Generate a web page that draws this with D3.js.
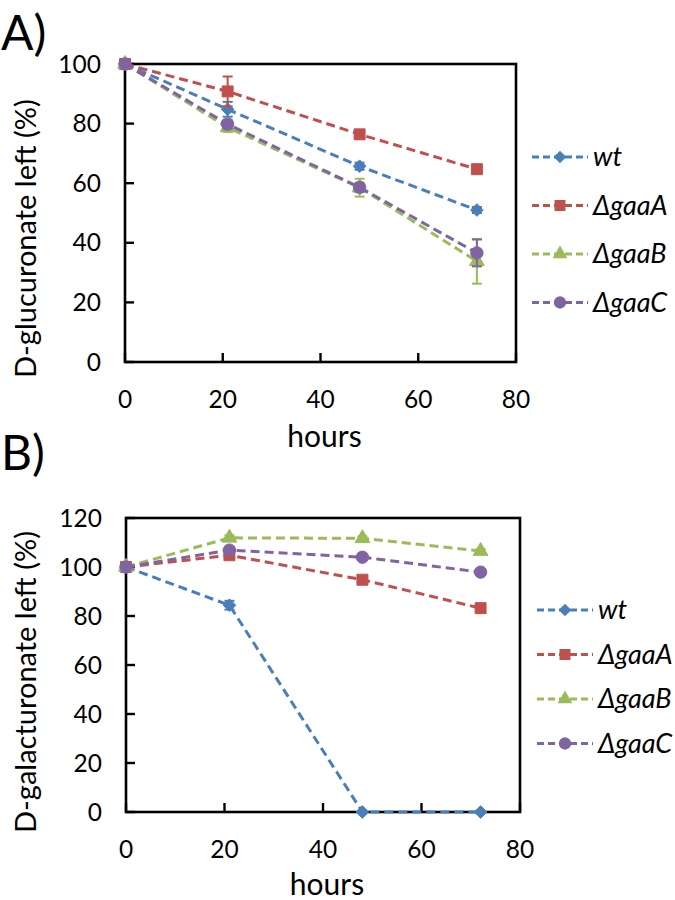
<!DOCTYPE html>
<html><head><meta charset="utf-8">
<script src="https://cdn.jsdelivr.net/npm/d3@7"></script>
<style>body{margin:0;background:#fff}svg{display:block}</style>
</head><body>
<svg id="c" width="675" height="900"></svg>
<script>
const hours = [0, 21, 48, 72];
const seriesNames = ["wt", "ΔgaaA", "ΔgaaB", "ΔgaaC"];
const seriesColors = ["#4A7EBB", "#C0504D", "#9BBB59", "#8064A2"];
const seriesSymbols = ["diamond", "square", "triangle", "circle"];

// Panel A: D-glucuronate left (%)
const glucWt = [100, 84.8, 65.7, 51.0];
const glucA  = [100, 90.8, 76.4, 64.7];
const glucB  = [100, 78.7, 58.5, 33.8];
const glucC  = [100, 79.8, 58.6, 36.6];
const glucWtErr = [0, 2.5, 1.2, 1.0];
const glucAErr  = [0, 5.0, 1.0, 1.0];
const glucBErr  = [0, 1.5, 3.0, 7.5];
const glucCErr  = [0, 1.5, 1.5, 4.5];

// Panel B: D-galacturonate left (%)
const galWt = [100, 84.4, 0, 0];
const galA  = [100, 104.8, 94.8, 83.2];
const galB  = [100, 111.9, 111.7, 106.5];
const galC  = [100, 106.9, 104.0, 97.9];
const galWtErr = [0, 1.8, 0, 0];
const galAErr  = [0, 1.0, 0.8, 0.8];
const galBErr  = [0, 1.0, 0.8, 0.8];
const galCErr  = [0, 1.0, 0.8, 0.8];

const xTicks = [0, 20, 40, 60, 80];
const yTicksA = [0, 20, 40, 60, 80, 100];
const yTicksB = [0, 20, 40, 60, 80, 100, 120];

const svg = d3.select("#c");
const FONT = "Lato, 'Open Sans', sans-serif";

const wideDiamond = {
  draw(ctx, size) {
    const r = Math.sqrt(size / 2);
    ctx.moveTo(0, -r); ctx.lineTo(r, 0); ctx.lineTo(0, r); ctx.lineTo(-r, 0); ctx.closePath();
  }
};
function symPath(type, size) {
  const t = {diamond: wideDiamond, square: d3.symbolSquare, triangle: d3.symbolTriangle, circle: d3.symbolCircle}[type];
  return d3.symbol().type(t).size(size)();
}
const symSizes = {diamond: 80, square: 120, triangle: 95, circle: 120};

function panel(o) {
  const x = d3.scaleLinear().domain([0, 80]).range([o.left, o.right]);
  const y = d3.scaleLinear().domain([0, o.ymax]).range([o.bottom, o.top]);
  const g = svg.append("g");

  g.append("rect").attr("x", o.left).attr("y", o.top)
    .attr("width", o.right - o.left).attr("height", o.bottom - o.top)
    .attr("fill", "none").attr("stroke", "#000").attr("stroke-width", 2.6);

  g.selectAll(".yt").data(o.yTicks).join("line")
    .attr("x1", o.left).attr("x2", o.left + 9)
    .attr("y1", d => y(d)).attr("y2", d => y(d))
    .attr("stroke", "#000").attr("stroke-width", 2.4);
  g.selectAll(".xt").data(xTicks).join("line")
    .attr("x1", d => x(d)).attr("x2", d => x(d))
    .attr("y1", o.bottom).attr("y2", o.bottom - 9)
    .attr("stroke", "#000").attr("stroke-width", 2.4);

  g.selectAll(".yl").data(o.yTicks).join("text")
    .attr("x", o.left - 24).attr("y", d => y(d) + 8.5)
    .attr("text-anchor", "end").attr("font-family", FONT).attr("font-size", 24.5)
    .text(d => d);
  g.selectAll(".xl").data(xTicks).join("text")
    .attr("x", d => x(d)).attr("y", o.bottom + 46)
    .attr("text-anchor", "middle").attr("font-family", FONT).attr("font-size", 24.5)
    .text(d => d);

  g.append("text").attr("x", (o.left + o.right) / 2 + 4).attr("y", o.hoursY)
    .attr("text-anchor", "middle").attr("font-family", FONT).attr("font-size", 30)
    .text("hours");
  g.append("text")
    .attr("transform", `translate(${o.ylabX},${o.ylabStart}) rotate(-90)`)
    .attr("text-anchor", "start").attr("font-family", FONT).attr("font-size", 29)
    .text(o.ylab);
  g.append("text").attr("x", o.tagX).attr("y", o.tagY)
    .attr("font-family", FONT).attr("font-size", 48).text(o.tag);

  o.series.forEach((vals, i) => {
    const col = seriesColors[i];
    const errs = o.errs[i];
    hours.forEach((h, k) => {
      if (errs[k] <= 0) return;
      const cx = x(h), y1 = y(vals[k] - errs[k]), y2 = y(vals[k] + errs[k]);
      g.append("line").attr("x1", cx).attr("x2", cx).attr("y1", y1).attr("y2", y2)
        .attr("stroke", col).attr("stroke-width", 2);
      [y1, y2].forEach(yy => g.append("line").attr("x1", cx - 5).attr("x2", cx + 5)
        .attr("y1", yy).attr("y2", yy).attr("stroke", col).attr("stroke-width", 2));
    });
    const line = d3.line().x((d, k) => x(hours[k])).y(d => y(d));
    g.append("path").datum(vals).attr("d", line)
      .attr("fill", "none").attr("stroke", col).attr("stroke-width", 3)
      .attr("stroke-dasharray", "9,5");
    const sym = seriesSymbols[i];
    g.selectAll(null).data(vals).join("path")
      .attr("d", symPath(sym, symSizes[sym]))
      .attr("transform", (d, k) => `translate(${x(hours[k])},${y(d)})`)
      .attr("fill", col).attr("stroke", col).attr("stroke-width", 1);
  });

  seriesNames.forEach((n, i) => {
    const ly = o.legY + i * o.legStep;
    const col = seriesColors[i];
    g.append("line").attr("x1", o.legX).attr("x2", o.legX + 56)
      .attr("y1", ly).attr("y2", ly).attr("stroke", col).attr("stroke-width", 3)
      .attr("stroke-dasharray", "7,4");
    const sym = seriesSymbols[i];
    g.append("path").attr("d", symPath(sym, symSizes[sym]))
      .attr("transform", `translate(${o.legX + 28},${ly})`).attr("fill", col);
    g.append("text").attr("x", o.legX + 61).attr("y", ly + 9)
      .attr("font-family", FONT).attr("font-size", 27).attr("font-style", "italic")
      .text(n);
  });
}

panel({
  left: 125, right: 516, top: 64, bottom: 362, ymax: 100, yTicks: yTicksA,
  series: [glucWt, glucA, glucB, glucC], errs: [glucWtErr, glucAErr, glucBErr, glucCErr],
  ylab: "D-glucuronate left (%)", ylabX: 36, ylabStart: 378, tag: "A)", tagX: 1, tagY: 50,
  hoursY: 447, legX: 532, legY: 157, legStep: 48.5
});
panel({
  left: 126, right: 520, top: 518, bottom: 812, ymax: 120, yTicks: yTicksB,
  series: [galWt, galA, galB, galC], errs: [galWtErr, galAErr, galBErr, galCErr],
  ylab: "D-galacturonate left (%)", ylabX: 36, ylabStart: 833, tag: "B)", tagX: 1, tagY: 470,
  hoursY: 895, legX: 537, legY: 610, legStep: 44.5
});
</script>
</body></html>
